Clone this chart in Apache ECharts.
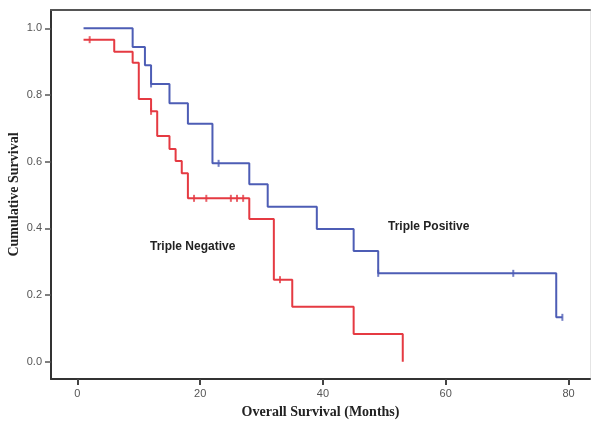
<!DOCTYPE html>
<html>
<head>
<meta charset="utf-8">
<script src="https://cdn.jsdelivr.net/npm/echarts@6/dist/echarts.min.js"></script>
<style>
  html, body { margin: 0; padding: 0; background: #fff; }
  #chart { width: 594px; height: 428px; }
</style>
</head>
<body>
<div id="chart"></div>
<script>
// Kaplan-Meier steps: [months, cumulative survival]
const positiveSteps = [
  [1, 1.0], [9, 0.944], [11, 0.889], [12, 0.833], [15, 0.775], [18, 0.714],
  [22, 0.595], [28, 0.532], [31, 0.465], [39, 0.398], [45, 0.332], [49, 0.265],
  [78, 0.133], [79, 0.133]
]
const negativeSteps = [
  [1, 0.966], [6, 0.930], [9, 0.897], [10, 0.788], [12, 0.751], [13, 0.677],
  [15, 0.638], [16, 0.602], [17, 0.565], [18, 0.490], [28, 0.428], [32, 0.246],
  [35, 0.165], [45, 0.083], [53, 0.0]
]
// censored cases (tick marks)
const positiveCensored = [[12, 0.833], [23, 0.595], [49, 0.265], [71, 0.265], [79, 0.133]]
const negativeCensored = [
  [2, 0.966], [12, 0.751], [19, 0.490], [21, 0.490], [25, 0.490], [26, 0.490],
  [27, 0.490], [33, 0.246]
]
const xTicks = [0, 20, 40, 60, 80]
const yTicks = [0.0, 0.2, 0.4, 0.6, 0.8, 1.0]

const blue = '#4d5db5'
const red = '#e53a42'

const chart = echarts.init(document.getElementById('chart'))

const option = {
  backgroundColor: '#fff',
  animation: false,
  grid: { left: 51, right: 4, top: 10, bottom: 49, outerBoundsMode: 'none', containLabel: false },
  xAxis: [
    {
      type: 'value',
      min: -4.3,
      max: 83.5,
      name: 'Overall Survival (Months)',
      nameLocation: 'middle',
      nameGap: 26,
      nameMoveOverlap: false,
      nameTextStyle: { fontFamily: 'Liberation Serif', fontWeight: 'bold', fontSize: 14, color: '#222' },
      splitLine: { show: false },
      axisLine: { onZero: false, lineStyle: { color: '#333', width: 2 } },
      axisTick: {
        length: 6,
        lineStyle: { color: '#444', width: 2 },
        customValues: xTicks
      },
      axisLabel: {
        customValues: xTicks,
        color: '#555',
        fontFamily: 'Liberation Sans',
        fontSize: 11,
        margin: 9
      }
    },
    {
      type: 'value',
      position: 'top',
      min: -4.3,
      max: 83.5,
      axisLine: { show: true, onZero: false, lineStyle: { color: '#555', width: 2 } },
      axisTick: { show: false },
      axisLabel: { show: false },
      splitLine: { show: false }
    }
  ],
  yAxis: [
    {
      type: 'value',
      min: -0.052,
      max: 1.055,
      name: 'Cumulative Survival',
      nameLocation: 'middle',
      nameGap: 30,
      nameMoveOverlap: false,
      nameRotate: 90,
      nameTextStyle: { fontFamily: 'Liberation Serif', fontWeight: 'bold', fontSize: 14, color: '#222' },
      splitLine: { show: false },
      axisLine: { show: true, onZero: false, lineStyle: { color: '#333', width: 2 } },
      axisTick: {
        show: true,
        length: 6,
        lineStyle: { color: '#555', width: 1.5 },
        customValues: yTicks
      },
      axisLabel: {
        customValues: yTicks,
        formatter: (v) => v.toFixed(1),
        color: '#555',
        fontFamily: 'Liberation Sans',
        fontSize: 11,
        margin: 9
      }
    },
    {
      type: 'value',
      position: 'right',
      min: -0.052,
      max: 1.055,
      axisLine: { show: true, onZero: false, lineStyle: { color: '#e4e4e4', width: 1 } },
      axisTick: { show: false },
      axisLabel: { show: false },
      splitLine: { show: false }
    }
  ],
  series: [
    {
      name: 'Triple Positive',
      type: 'line',
      step: 'end',
      data: positiveSteps,
      showSymbol: false,
      lineStyle: { color: blue, width: 2 },
      z: 3
    },
    {
      name: 'Triple Negative',
      type: 'line',
      step: 'end',
      data: negativeSteps,
      showSymbol: false,
      lineStyle: { color: red, width: 2 },
      z: 3
    },
    {
      type: 'scatter',
      data: positiveCensored,
      symbol: 'rect',
      symbolSize: [2, 7],
      itemStyle: { color: blue },
      z: 4
    },
    {
      type: 'scatter',
      data: negativeCensored,
      symbol: 'rect',
      symbolSize: [2, 7],
      itemStyle: { color: red },
      z: 4
    }
  ],
  graphic: [
    {
      type: 'text',
      left: 150,
      top: 241,
      style: { text: 'Triple Negative', font: 'bold 12px "Liberation Sans", Arial', fill: '#222' }
    },
    {
      type: 'text',
      left: 388,
      top: 221,
      style: { text: 'Triple Positive', font: 'bold 12px "Liberation Sans", Arial', fill: '#222' }
    }
  ]
}

chart.setOption(option)
</script>
</body>
</html>
